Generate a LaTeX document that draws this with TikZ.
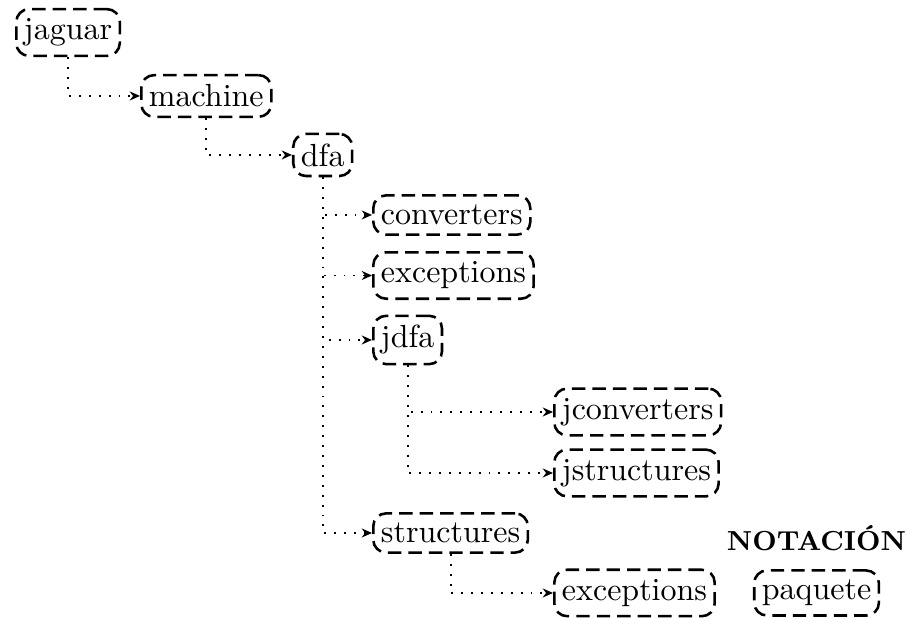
\documentclass[tikz,border=0pt]{standalone}
\usetikzlibrary{arrows.meta,positioning}
\tikzset{
    pkg tree/.style = {>={Stealth[length=3.2pt, width=2.8pt]}},
    pkg/.style      = {draw, thick, dash pattern=on 4.2pt off 2.2pt,
                       rounded corners=4pt, inner xsep=2.4pt,
                       inner ysep=3pt, anchor=west},
    link/.style     = {->, line width=0.6pt,
                       dash pattern=on 0.6pt off 2.5pt},
    legend/.style   = {font=\fontsize{8.6}{10}\selectfont\bfseries}
}
\def\lvlone{0.165}
\def\lvltwo{1.538}
\def\lvlthree{3.207}
\def\lvlfour{4.086}
\def\lvlfive{6.074}

\begin{document}
\begin{tikzpicture}[pkg tree]
\useasboundingbox (0,0) rectangle (9.951,-6.798);

% ================= Top of the hierarchy =================
\node[pkg] (jaguar)  at (\lvlone,-0.357)   {jaguar};
\node[pkg] (machine) at (\lvltwo,-1.054)   {machine};
\node[pkg] (dfa)     at (\lvlthree,-1.702) {dfa};

% ================= Packages of dfa =================
\node[pkg] (conv)    at (\lvlfour,-2.361) {converters};
\node[pkg] (exc)     at (\lvlfour,-3.026) {exceptions};
\node[pkg] (jdfa)    at (\lvlfour,-3.734) {jdfa};
\node[pkg] (struct)  at (\lvlfour,-5.854) {structures};

% ================= Sub-packages =================
\node[pkg] (jconv)   at (\lvlfive,-4.525) {jconverters};
\node[pkg] (jstruct) at (\lvlfive,-5.195) {jstructures};
\node[pkg] (sexc)    at (\lvlfive,-6.513) {exceptions};

% ================= Links =================
\draw[link] (jaguar.south)  |- (machine.west);
\draw[link] (machine.south) |- (dfa.west);
\foreach \sub in {conv,exc,jdfa,struct}
    \draw[link] (dfa.south) |- (\sub.west);
\draw[link] (jdfa.south)   |- (jconv.west);
\draw[link] (jdfa.south)   |- (jstruct.west);
\draw[link] (struct.south) |- (sexc.west);

% ================= Notation =================
\node[pkg] (paquete) at (8.270,-6.513) {paquete};
\node[legend] (notation) at (8.968,-5.909) {NOTACIÓN};

\end{tikzpicture}
\end{document}
